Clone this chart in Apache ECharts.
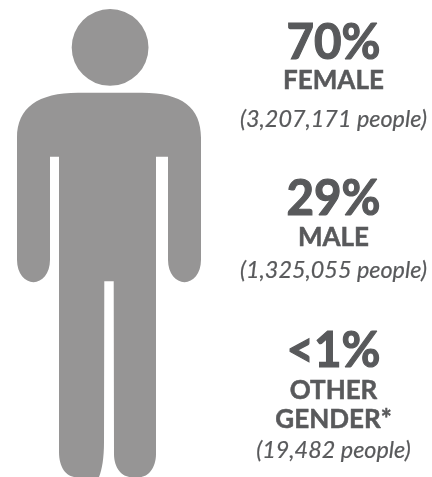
<!DOCTYPE html>
<html>
<head>
<meta charset="utf-8">
<style>
html, body { margin: 0; padding: 0; background: #fff; }
#chart { width: 432px; height: 477px; }
</style>
<script src="https://cdn.jsdelivr.net/npm/echarts@6/dist/echarts.min.js"></script>
</head>
<body>
<div id="chart"></div>
<script>
var categories = ['people'];
var personValues = [100];
var shareLabels = ['70%', '29%', '<1%'];
var groupLabels = [['FEMALE'], ['MALE'], ['OTHER', 'GENDER*']];
var peopleLabels = ['(3,207,171 people)', '(1,325,055 people)', '(19,482 people)'];

// person pictogram, drawn in the picture's own pixel units
var personPath = 'path://' +
    'M71.7,47.7 A38.4,38.4 0 1 1 148.5,47.7 A38.4,38.4 0 1 1 71.7,47.7 Z ' +
    'M17,138 C17,108 38,93 78,93 L142,93 C182,93 201,108 201,138 L201,260 ' +
    'C201,274 193,282.3 184.5,282.3 C176,282.3 168,274 168,260 L168,157 L156,157 L156,454 ' +
    'C156,468 148,477 140,477 L131,477 C122,477 114,468 114,454 L113.7,281.3 L104.3,281.3 L104,442 ' +
    'C104,458 102,470 99,477 L76,477 C66,477 59,467 59,452 L59,157 L50,157 L50,260 ' +
    'C50,274 42,282.3 33.5,282.3 C25,282.3 17,274 17,260 Z';

var textColor = '#58595b';
var centerX = 333.5;
var shareY = [43, 199, 351];
var groupY = [[81], [238], [391, 420]];
var peopleY = [119, 270, 450];

var graphics = [];
function addText(text, x, y, font, stroke, scaleX) {
    graphics.push({
        type: 'text',
        silent: true,
        x: x,
        y: y,
        scaleX: scaleX,
        style: {
            x: 0,
            y: 0,
            text: text,
            font: font,
            fill: textColor,
            stroke: textColor,
            lineWidth: stroke,
            textAlign: 'center',
            textVerticalAlign: 'middle'
        }
    });
}

shareLabels.forEach(function (label, i) {
    addText(label, centerX, shareY[i], 'bold 50px Lato', 1.2, 0.95);
    groupLabels[i].forEach(function (line, j) {
        addText(line, centerX, groupY[i][j], 'bold 26px Lato', 0.5, 1);
    });
    addText(peopleLabels[i], centerX, peopleY[i], 'italic 23.4px Lato', 0.2, 1);
});

var mychart = echarts.init(document.getElementById('chart'));
mychart.setOption({
    animation: false,
    backgroundColor: '#ffffff',
    grid: { left: 17, top: 9, width: 184, height: 468 },
    xAxis: { type: 'category', data: categories, show: false },
    yAxis: { type: 'value', min: 0, max: 100, show: false },
    series: [{
        type: 'pictorialBar',
        data: personValues,
        symbol: personPath,
        symbolSize: ['100%', '100%'],
        symbolPosition: 'start',
        barWidth: '100%',
        itemStyle: { color: '#969595' }
    }],
    graphic: graphics
});
</script>
</body>
</html>
